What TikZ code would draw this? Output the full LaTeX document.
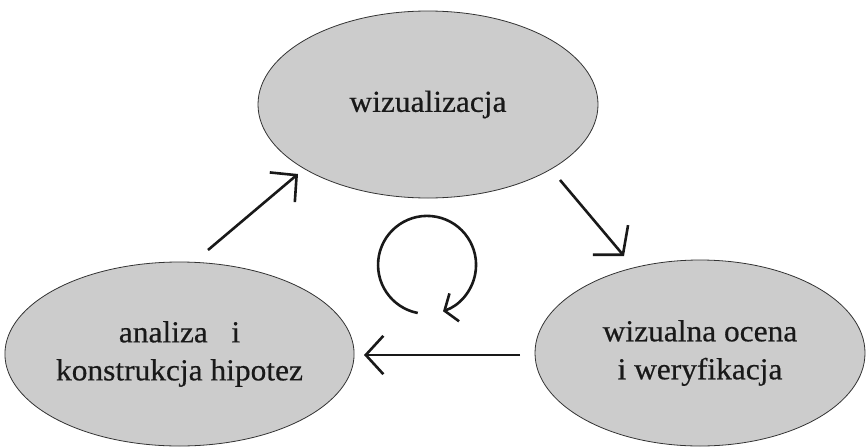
\documentclass[tikz,border=0pt]{standalone}
\usepackage{fontspec}
\setmainfont{Liberation Serif}[FakeStretch=1.03,FakeBold=0.5]
\usetikzlibrary{shapes.geometric,arrows.meta}
\tikzset{
  bubble/.style={ellipse, draw=black!80, line width=0.8pt, fill=black!20, inner sep=0pt,
    align=center, text=black!90, font=\fontsize{30.5}{38}\selectfont},
  flow/.style={line width=2.6pt, black!90}
}
\begin{document}
\begin{tikzpicture}[x=1pt,y=-1pt]
\useasboundingbox (0,0) rectangle (866,447);
\node[bubble, minimum width=340pt, minimum height=187pt] (top) at (428,104.5) {wizualizacja};
\node[bubble, minimum width=339pt, minimum height=184pt] (left) at (179.5,354) {analiza\ \ \ i\\konstrukcja hipotez};
\node[bubble, minimum width=330pt, minimum height=186pt] (right) at (700,353) {wizualna ocena\\i weryfikacja};
\coordinate (a1s) at (208,250);
\coordinate (a1e) at (298,174);
\coordinate (a2s) at (560,180);
\coordinate (a2e) at (624,256);
\coordinate (a3s) at (520,355);
\coordinate (a3e) at (364,355);
\coordinate (cs) at (417.7,313);
\draw[flow, -{Straight Barb[angle=92:27pt]}] (a1s) -- (a1e);
\draw[flow, -{Straight Barb[angle=100:30pt]}] (a2s) -- (a2e);
\draw[flow, -{Straight Barb[angle=95:26pt]}] (a3s) -- (a3e);
\draw[flow, -{Straight Barb[angle=110:18pt]}] (cs) arc[start angle=101, end angle=431, radius=49];
\end{tikzpicture}
\end{document}
